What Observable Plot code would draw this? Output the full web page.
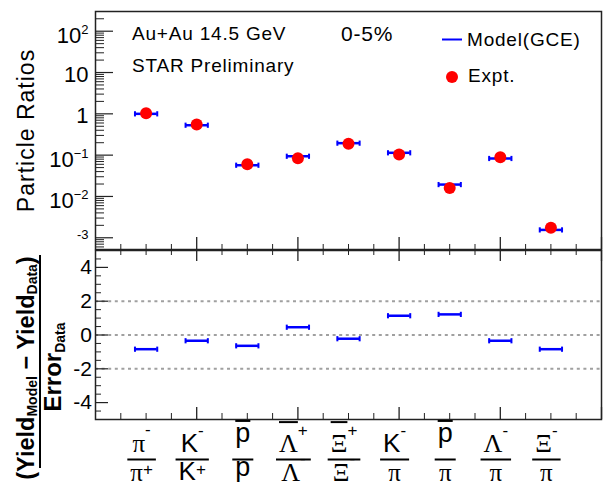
<!DOCTYPE html>
<html>
<head>
<meta charset="utf-8">
<script src="https://cdn.jsdelivr.net/npm/d3@7"></script>
<script src="https://cdn.jsdelivr.net/npm/@observablehq/plot@0.6"></script>
<style>
  html, body { margin: 0; padding: 0; background: #fff; }
  #chart { position: relative; width: 603px; height: 486px; overflow: hidden; background: #fff; }
  #chart > svg { position: absolute; left: 0; overflow: visible; }
</style>
</head>
<body>
<div id="chart"></div>
<script>
// Particle ratios in central (0-5%) Au+Au collisions at 14.5 GeV, data vs. GCE model
const categories = ["π-/π+", "K-/K+", "pbar/p", "Λbar/Λ", "Ξbar/Ξ", "K-/π", "pbar/π", "Λ/π", "Ξ/π"];
// label markup: "#" puts a bar over the next glyph, "^" raises the next glyph
const numerators   = ["π^-", "K^-", "#p", "#Λ^+", "#Ξ^+", "K^-", "#p", "Λ^-", "Ξ^-"];
const denominators = ["π^+", "K^+", "p",  "Λ^-",  "Ξ^-",  "π",   "π",  "π",   "π"];
const exptRatio  = [1.03, 0.55, 0.060, 0.084, 0.188, 0.103, 0.0160, 0.089, 0.00174];
const modelRatio = [1.00, 0.53, 0.057, 0.094, 0.195, 0.114, 0.0194, 0.083, 0.00155];
const deviation  = [-0.84, -0.34, -0.64, 0.46, -0.22, 1.14, 1.22, -0.34, -0.84];
const ratioTicks = [100, 10, 1, 0.1, 0.01, 0.001];
const ratioTickText = ["10^2", "10", "1", "10^−1", "10^−2", "^-3"];
const devTicks = [-4, -2, 0, 2, 4];
const devTickText = ["-4", "-2", "0", "2", "4"];
const devGuides = [-2, 0, 2];

// layout
const W = 603;
const ML = 95, MR = 2;
const H1 = 250, MT1 = 11, MB1 = 1;
const H2 = 237, MT2 = 1, MB2 = 67, TOP2 = 249;
const PW = W - ML - MR;
const PH1 = H1 - MT1 - MB1;
const PH2 = H2 - MT2 - MB2;
const SANS = "'Liberation Sans', Arial, Helvetica, sans-serif";
const SERIF = "'Liberation Serif', 'Times New Roman', serif";
const BLUE = "#0000ff", RED = "#ff0000", INK = "#222";
const halfWidth = 0.22;

const rows = categories.map((c, i) => ({
  x: i + 1, label: c, expt: exptRatio[i], model: modelRatio[i], dev: deviation[i]
}));
const capRows = rows.flatMap(d => [
  {x: d.x - halfWidth, model: d.model, dev: d.dev},
  {x: d.x + halfWidth, model: d.model, dev: d.dev}
]);
// short vertical stroke used for the ends of the model bars
const capSymbol = {
  draw(ctx, size) { const r = Math.sqrt(size / Math.PI); ctx.moveTo(0, -r); ctx.lineTo(0, r); }
};

const yDomainTop = [5.2e-4, 300];
const logMinor = d3.scaleLog().domain(yDomainTop).ticks()
  .filter(v => Math.abs(Math.log10(v) - Math.round(Math.log10(v))) > 1e-6);
const xMinor = d3.range(0.5, 10, 0.5).filter(v => v % 2 !== 0);
const xMajor = [2, 4, 6, 8, 10];
const devMinor = d3.range(-5, 5.01, 0.5).filter(v => v % 2 !== 0);

const ratioText = new Map(ratioTicks.map((t, i) => [t, ratioTickText[i]]));
const devText = new Map(devTicks.map((t, i) => [t, devTickText[i]]));

const topPlot = Plot.plot({
  width: W, height: H1,
  marginLeft: ML, marginRight: MR, marginTop: MT1, marginBottom: MB1,
  style: {fontFamily: SANS, background: "transparent", overflow: "visible"},
  x: {domain: [0, 10], axis: null},
  y: {type: "log", domain: yDomainTop, label: null},
  marks: [
    Plot.ruleY(logMinor, {stroke: INK, strokeWidth: 1, insetRight: PW - 9}),
    Plot.ruleY(ratioTicks, {stroke: INK, strokeWidth: 1.2, insetRight: PW - 18}),
    Plot.ruleX(xMinor, {stroke: INK, strokeWidth: 1, insetTop: PH1 - 5}),
    Plot.ruleX(xMajor, {stroke: INK, strokeWidth: 1.3, insetTop: PH1 - 12}),
    Plot.axisY({ticks: ratioTicks, tickSize: 0, tickPadding: 7, fontSize: 22, label: null,
      tickFormat: d => ratioText.get(d), fill: "#000"}),
    Plot.ruleY(rows, {x1: d => d.x - halfWidth, x2: d => d.x + halfWidth, y: "model",
      stroke: BLUE, strokeWidth: 2.5}),
    Plot.dot(capRows, {x: "x", y: "model", symbol: capSymbol, r: 2.6, stroke: BLUE,
      strokeWidth: 2, fill: "none"}),
    Plot.dot(rows, {x: "x", y: "expt", r: 6, fill: RED}),
    Plot.frame({stroke: INK, strokeWidth: 1.5})
  ]
});

const bottomPlot = Plot.plot({
  width: W, height: H2,
  marginLeft: ML, marginRight: MR, marginTop: MT2, marginBottom: MB2,
  style: {fontFamily: SANS, background: "transparent", overflow: "visible"},
  x: {domain: [0, 10], axis: null},
  y: {domain: [-5, 5], label: null},
  marks: [
    Plot.ruleY(devGuides, {stroke: "#a0a0a0", strokeWidth: 2, strokeDasharray: "3,3.6"}),
    Plot.ruleY(devMinor, {stroke: INK, strokeWidth: 1, insetRight: PW - 6}),
    Plot.ruleY(devTicks, {stroke: INK, strokeWidth: 1.2, insetRight: PW - 13}),
    Plot.ruleX(xMinor, {stroke: INK, strokeWidth: 1, insetBottom: PH2 - 5}),
    Plot.ruleX(xMajor, {stroke: INK, strokeWidth: 1.3, insetBottom: PH2 - 11}),
    Plot.ruleX(xMinor, {stroke: INK, strokeWidth: 1, insetTop: PH2 - 6}),
    Plot.ruleX(xMajor, {stroke: INK, strokeWidth: 1.3, insetTop: PH2 - 12}),
    Plot.axisY({ticks: devTicks, tickSize: 0, tickPadding: 3.5, fontSize: 21, label: null,
      tickFormat: d => devText.get(d), fill: "#000"}),
    Plot.ruleY(rows, {x1: d => d.x - halfWidth, x2: d => d.x + halfWidth, y: "dev",
      stroke: BLUE, strokeWidth: 2.5}),
    Plot.dot(capRows, {x: "x", y: "dev", symbol: capSymbol, r: 2.6, stroke: BLUE,
      strokeWidth: 2, fill: "none"}),
    Plot.frame({stroke: INK, strokeWidth: 1.5})
  ]
});

const chart = document.getElementById("chart");
topPlot.style.top = "0px";
bottomPlot.style.top = TOP2 + "px";
chart.appendChild(topPlot);
chart.appendChild(bottomPlot);

const NS = "http://www.w3.org/2000/svg";
function el(parent, tag, attrs = {}, text) {
  const node = document.createElementNS(NS, tag);
  for (const [k, v] of Object.entries(attrs)) node.setAttribute(k, v);
  if (text != null) node.textContent = text;
  parent.appendChild(node);
  return node;
}

// exponent-style tick labels on the ratio axis ("10^2" -> 10 with raised 2)
topPlot.querySelectorAll('g[aria-label="y-axis tick label"] text').forEach(t => {
  const [base, sup] = t.textContent.split("^");
  t.textContent = "";
  if (base) el(t, "tspan", {}, base);
  if (sup !== undefined) el(t, "tspan", {"font-size": 13, dy: base ? -9 : 0}, sup);
  t.setAttribute("y", base && sup ? 11.5 : base ? 9.3 : 1);
});

const overlay = el(chart, "svg", {width: W, height: 486});
overlay.style.top = "0px";
overlay.style.pointerEvents = "none";

// annotations and legend
const note = {"font-family": SANS, "font-size": 19, "letter-spacing": "0.8px", fill: "#000"};
el(overlay, "text", {...note, x: 132, y: 40}, "Au+Au 14.5 GeV");
el(overlay, "text", {...note, x: 132, y: 71.5}, "STAR Preliminary");
el(overlay, "text", {...note, "font-size": 21, x: 341, y: 41}, "0-5%");
el(overlay, "line", {x1: 442, x2: 462, y1: 39.5, y2: 39.5, stroke: BLUE, "stroke-width": 2});
el(overlay, "text", {...note, x: 467, y: 46}, "Model(GCE)");
el(overlay, "circle", {cx: 452, cy: 77, r: 6, fill: RED});
el(overlay, "text", {...note, x: 468, y: 82}, "Expt.");

// y titles
el(overlay, "text", {transform: "translate(34,130.5) rotate(-90)", "text-anchor": "middle",
  "font-family": SANS, "font-size": 23, "letter-spacing": "1px", fill: "#000"}, "Particle Ratios");
const numTitle = el(overlay, "text", {transform: "translate(33.5,368) rotate(-90)", "text-anchor": "middle",
  "font-family": SANS, "font-weight": "bold", "font-size": 23.5, fill: "#000"});
el(numTitle, "tspan", {}, "(Yield");
el(numTitle, "tspan", {"font-size": 14, dy: 3.5}, "Model");
el(numTitle, "tspan", {dy: -3.5}, " − Yield");
el(numTitle, "tspan", {"font-size": 14, dy: 3.5}, "Data");
el(numTitle, "tspan", {dy: -3.5}, ")");
el(overlay, "line", {x1: 40, x2: 40, y1: 255, y2: 468, stroke: "#000", "stroke-width": 2});
const denTitle = el(overlay, "text", {transform: "translate(61,367) rotate(-90)", "text-anchor": "middle",
  "font-family": SANS, "font-weight": "bold", "font-size": 24, fill: "#000"});
el(denTitle, "tspan", {}, "Error");
el(denTitle, "tspan", {"font-size": 14, dy: 4}, "Data");

// category labels: stacked fractions under each bin, one text element per label
function parseMarkup(s) {
  const out = [];
  let bar = false;
  const chars = Array.from(s);
  for (let i = 0; i < chars.length; i++) {
    const ch = chars[i];
    if (ch === "#") { bar = true; continue; }
    if (ch === "^") { out.push({ch: chars[++i], sup: true}); continue; }
    out.push({ch, bar});
    bar = false;
  }
  return out;
}
// size: font size; height: how far the row's top sits above its baseline
function glyphFont(t) {
  if (t.sup) return {family: SANS, size: 17};
  if (t.ch === "π") return {family: SERIF, size: 25, height: 19.5, cap: false};
  if (/[ΛΞ]/.test(t.ch)) return {family: SERIF, size: 26, height: 19, cap: true};
  if (t.ch === "p") return {family: SANS, size: 27, height: 14.5, cap: false, desc: true};
  return {family: SANS, size: 26, height: 18.6, cap: true};
}
const labels = el(overlay, "g", {fill: "#000"});
function drawRow(text, markup, cx, role) {
  const items = parseMarkup(markup).map(t => {
    const f = glyphFont(t);
    const node = el(text, "tspan", {"font-family": f.family, "font-size": f.size}, t.ch);
    return {t, f, node, w: node.getComputedTextLength()};
  });
  const bases = items.filter(d => !d.t.sup);
  const H = d3.max(bases, d => d.f.height);
  const desc = bases.some(d => d.f.desc);
  const baseline = role === "num" ? (desc ? 442 : 452) : 461.5 + H;
  const total = d3.sum(items, d => d.w);
  let x = cx - total / 2;
  let top = role === "num" ? baseline - H : 461.5;
  for (const d of items) {
    let y = baseline;
    if (d.t.sup) {
      const plus = d.t.ch === "+";
      y = top + (plus ? 8 : -2) + (plus ? 0.35 : 0.28) * d.f.size;
    } else if (d.t.bar) {
      const by = baseline - (d.f.cap ? 1.15 : 0.78) * d.f.size;
      el(labels, "line", {x1: x, x2: x + d.w, y1: by, y2: by, stroke: "#000", "stroke-width": 2});
      top = Math.min(top, by);
    }
    d.node.setAttribute("x", x);
    d.node.setAttribute("y", y);
    x += d.w;
  }
  return total;
}
const xScale = bottomPlot.scale("x");
rows.forEach((d, i) => {
  const cx = xScale.apply(d.x) - 4;
  const text = el(labels, "text", {});
  const wn = drawRow(text, numerators[i], cx, "num");
  const wd = drawRow(text, denominators[i], cx, "den");
  const L = Math.max(wn, wd) + 6;
  el(labels, "line", {x1: cx - L / 2, x2: cx + L / 2, y1: 459.5, y2: 459.5, stroke: "#000", "stroke-width": 2});
});
</script>
</body>
</html>
